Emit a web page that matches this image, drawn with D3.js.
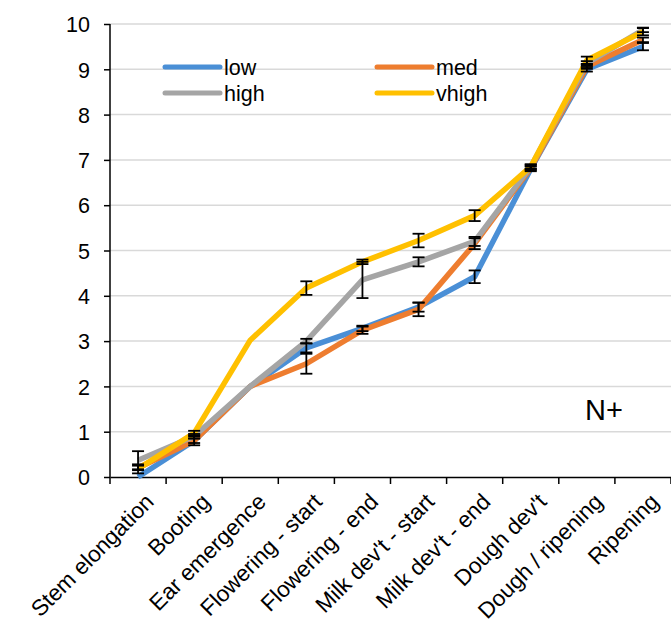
<!DOCTYPE html>
<html>
<head>
<meta charset="utf-8">
<script src="https://cdnjs.cloudflare.com/ajax/libs/d3/7.8.5/d3.min.js"></script>
<style>
  body { margin: 0; background: #fff; }
  text { font-family: "Liberation Sans", Arial, sans-serif; fill: #000; }
</style>
</head>
<body>
<div id="chart"></div>
<script>
var stages = ["Stem elongation", "Booting", "Ear emergence", "Flowering - start", "Flowering - end",
  "Milk dev't - start", "Milk dev't - end", "Dough dev't", "Dough / ripening", "Ripening"];
var yTicks = [0, 1, 2, 3, 4, 5, 6, 7, 8, 9, 10];

var seriesNames = ["low", "med", "high", "vhigh"];
var lowVals   = [0.0, 0.8, 2.0, 2.85, 3.28, 3.75, 4.42, 6.8, 9.0, 9.5];
var medVals   = [0.2, 0.8, 2.0, 2.5, 3.24, 3.7, 5.15, 6.82, 9.06, 9.65];
var highVals  = [0.37, 0.9, 2.0, 3.0, 4.35, 4.75, 5.2, 6.85, 9.13, 9.87];
var vhighVals = [0.18, 0.97, 3.02, 4.17, 4.75, 5.22, 5.77, 6.85, 9.2, 9.83];
var lowErr    = [0.0, 0.05, 0.02, 0.1, 0.06, 0.1, 0.14, 0.05, 0.05, 0.08];
var medErr    = [0.05, 0.1, 0.02, 0.22, 0.08, 0.15, 0.12, 0.05, 0.05, 0.05];
var highErr   = [0.2, 0.05, 0.02, 0.05, 0.4, 0.1, 0.1, 0.05, 0.05, 0.05];
var vhighErr  = [0.1, 0.05, 0.02, 0.15, 0.05, 0.15, 0.12, 0.05, 0.08, 0.08];
var colors    = ["#4a8fd6", "#ee7d2f", "#a5a5a5", "#ffc000"];

var width = 671, height = 628,
  plotLeft = 110, plotRight = 671, plotTop = 24, plotBottom = 477;

var series = [lowVals, medVals, highVals, vhighVals].map(function (v, i) {
  var e = [lowErr, medErr, highErr, vhighErr][i];
  return { name: seriesNames[i], color: colors[i], points: v.map(function (d, j) {
    return { stage: stages[j], value: d, err: e[j] };
  }) };
});

var svg = d3.select("#chart").append("svg").attr("width", width).attr("height", height);

var x = d3.scaleBand().domain(stages).range([plotLeft, plotRight]);
var y = d3.scaleLinear().domain([0, 10]).range([plotBottom, plotTop]);

// gridlines
svg.append("g").selectAll("line").data(yTicks.filter(function (d) { return d > 0; }))
  .enter().append("line")
  .attr("x1", plotLeft).attr("x2", plotRight)
  .attr("y1", function (d) { return y(d); }).attr("y2", function (d) { return y(d); })
  .attr("stroke", "#d9d9d9").attr("stroke-width", 1.5);

// y axis
var yAxis = svg.append("g").attr("transform", "translate(" + plotLeft + ",0)")
  .call(d3.axisLeft(y).tickValues(yTicks).tickSize(6).tickPadding(14));
yAxis.select(".domain").attr("stroke", "#000").attr("stroke-width", 1.5).attr("d", "M0," + plotTop + "V" + plotBottom);
yAxis.selectAll(".tick line").attr("stroke", "#000").attr("stroke-width", 1.5);
yAxis.selectAll("text").style("font-size", "21.5px").style("font-family", "'Liberation Sans', Arial, sans-serif").attr("dy", "0.36em");

// x axis
var xAxis = svg.append("g").attr("transform", "translate(0," + plotBottom + ")")
  .call(d3.axisBottom(x).tickSize(0).tickFormat(""));
xAxis.select(".domain").attr("stroke", "#000").attr("stroke-width", 1.5);
svg.append("g").selectAll("line").data(stages.concat(["end"]))
  .enter().append("line")
  .attr("x1", function (d, i) { return plotLeft + i * x.bandwidth(); })
  .attr("x2", function (d, i) { return plotLeft + i * x.bandwidth(); })
  .attr("y1", plotBottom).attr("y2", plotBottom + 7)
  .attr("stroke", "#000").attr("stroke-width", 1.5);

svg.append("g").selectAll("text").data(stages)
  .enter().append("text")
  .attr("transform", function (d) {
    return "translate(" + (x(d) + x.bandwidth() / 2 + 6) + "," + (plotBottom + 15) + ") rotate(-45)";
  })
  .attr("text-anchor", "end")
  .attr("dy", "0.7em")
  .style("font-size", "22.5px")
  .text(function (d) { return d; });

// lines
var line = d3.line()
  .x(function (d) { return x(d.stage) + x.bandwidth() / 2; })
  .y(function (d) { return y(d.value); });

svg.append("g").selectAll("path").data(series)
  .enter().append("path")
  .attr("d", function (d) { return line(d.points); })
  .attr("fill", "none")
  .attr("stroke", function (d) { return d.color; })
  .attr("stroke-width", 5.5)
  .attr("stroke-linejoin", "round");

// error bars
var errs = [];
series.forEach(function (s) {
  s.points.forEach(function (p) { if (p.err > 0.03) errs.push(p); });
});
var eg = svg.append("g").selectAll("g").data(errs).enter().append("g")
  .attr("stroke", "#000").attr("stroke-width", 1.8);
eg.append("line")
  .attr("x1", function (d) { return x(d.stage) + x.bandwidth() / 2; })
  .attr("x2", function (d) { return x(d.stage) + x.bandwidth() / 2; })
  .attr("y1", function (d) { return y(d.value - d.err); })
  .attr("y2", function (d) { return y(d.value + d.err); });
[-1, 1].forEach(function (sgn) {
  eg.append("line")
    .attr("x1", function (d) { return x(d.stage) + x.bandwidth() / 2 - 6; })
    .attr("x2", function (d) { return x(d.stage) + x.bandwidth() / 2 + 6; })
    .attr("y1", function (d) { return y(d.value + sgn * d.err); })
    .attr("y2", function (d) { return y(d.value + sgn * d.err); });
});

// legend
var legend = svg.append("g").selectAll("g").data(series).enter().append("g")
  .attr("transform", function (d, i) {
    return "translate(" + (165 + (i % 2) * 212) + "," + (67 + Math.floor(i / 2) * 26) + ")";
  });
legend.append("line").attr("x1", 0).attr("x2", 55)
  .attr("stroke", function (d) { return d.color; }).attr("stroke-width", 5).attr("stroke-linecap", "round");
legend.append("text").attr("x", 59).attr("dy", "0.36em").style("font-size", "21.5px")
  .text(function (d) { return d.name; });

svg.append("text").attr("x", 585).attr("y", 420).style("font-size", "29px").text("N+");
</script>
</body>
</html>
